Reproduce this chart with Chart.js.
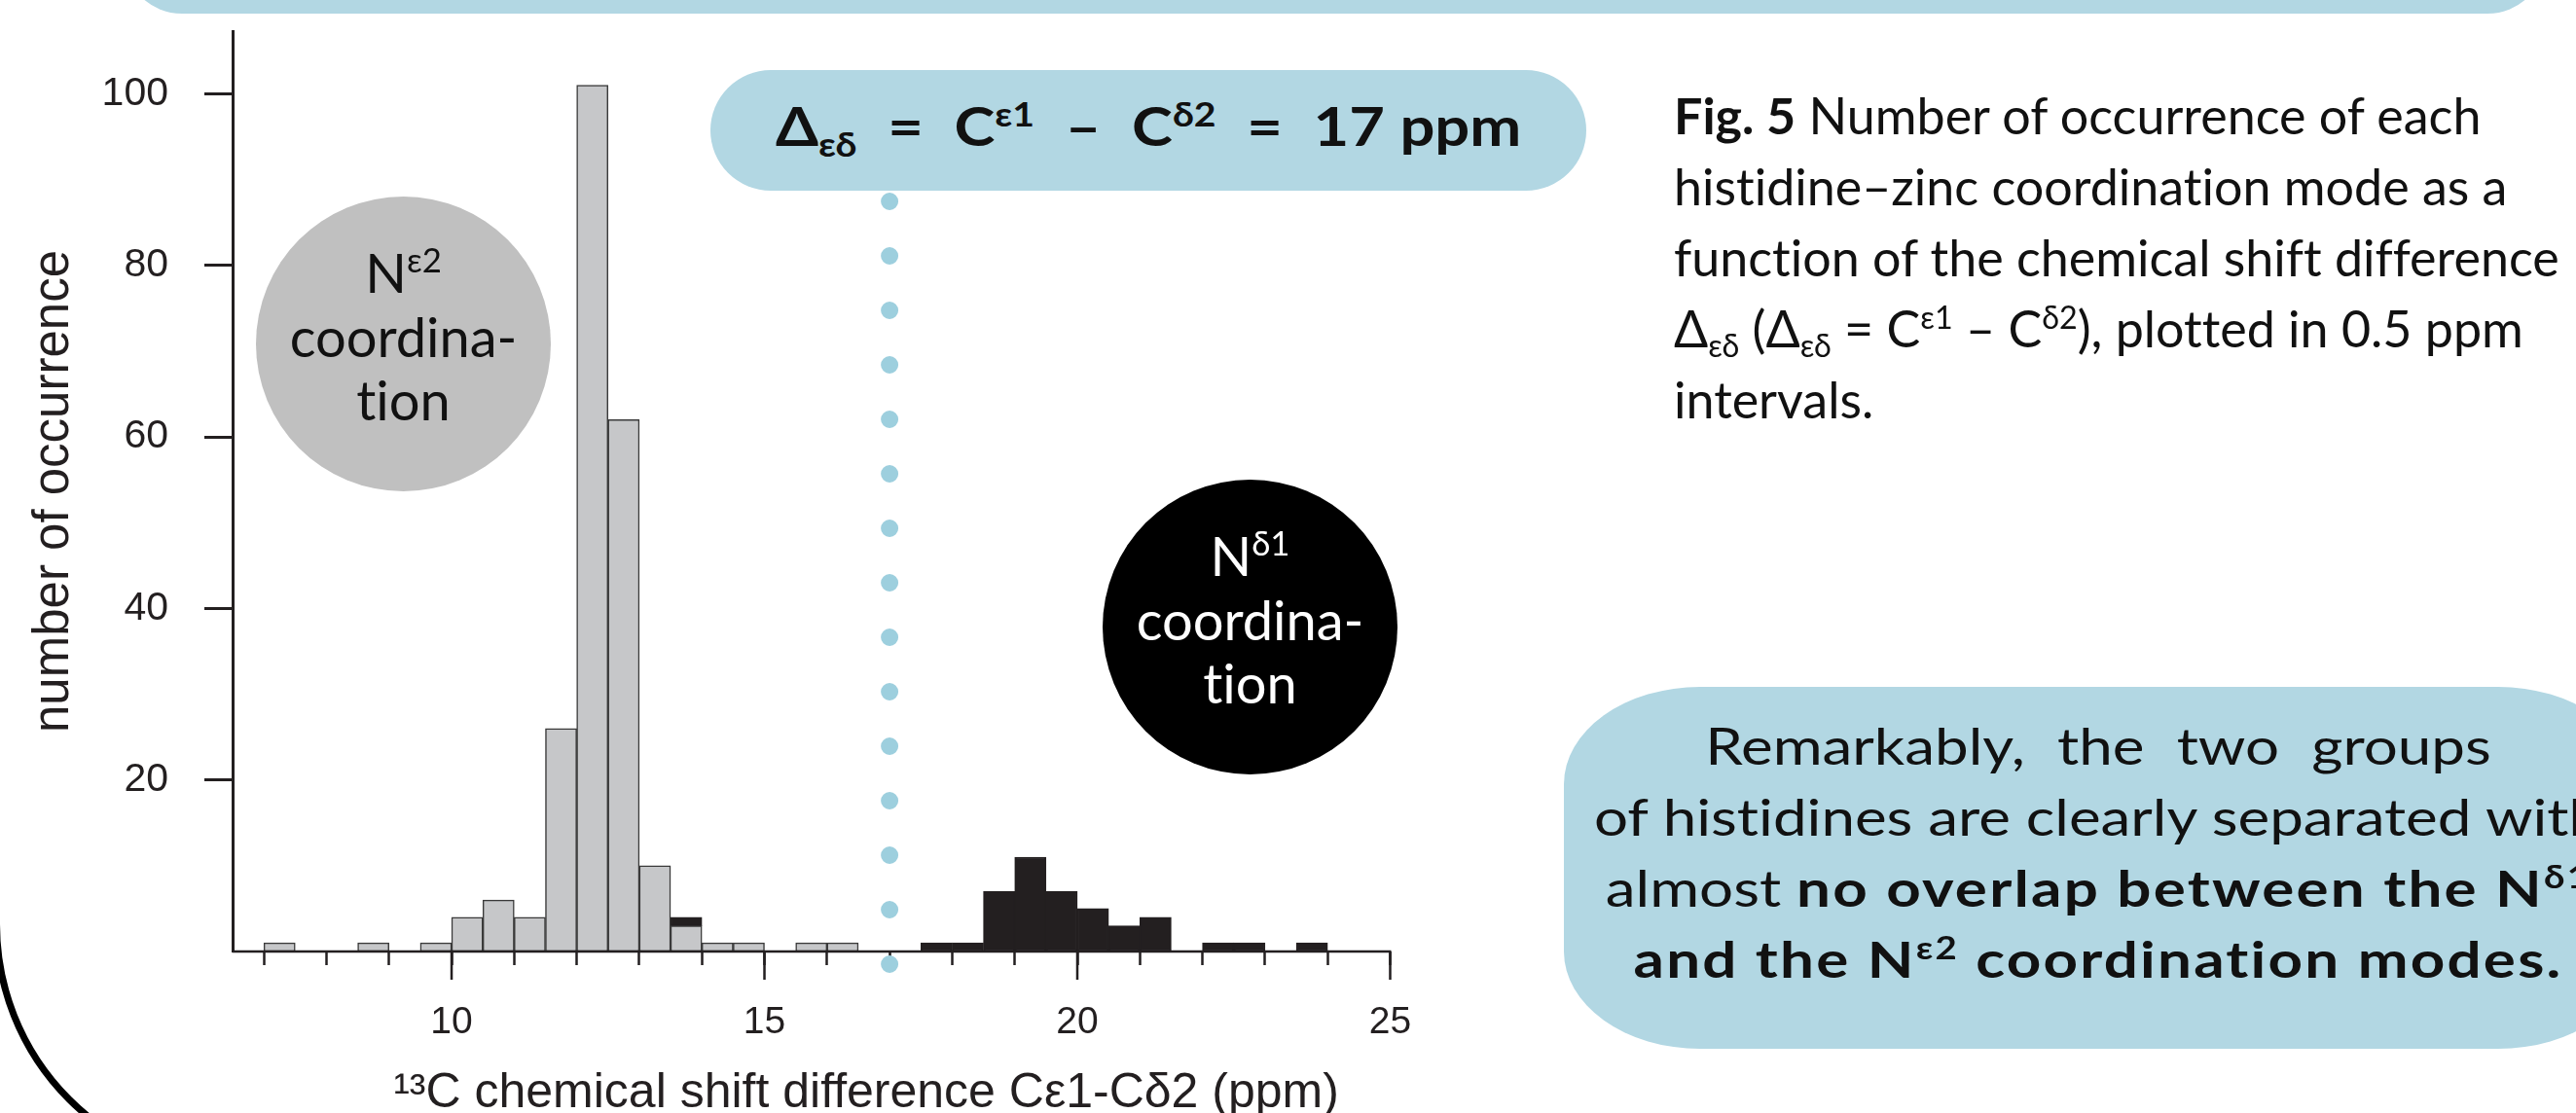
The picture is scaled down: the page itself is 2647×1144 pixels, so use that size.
<!DOCTYPE html>
<html lang="en">
<head>
<meta charset="UTF-8">
<title>Histidine–zinc coordination</title>
<style>
  html, body { margin: 0; padding: 0; background: #fff; }
  body { width: 2647px; height: 1144px; position: relative; overflow: hidden;
         font-family: Lato, "Open Sans", sans-serif; color: #111; font-variant-ligatures: none; }
  #chart { position: absolute; left: 0; top: 0; }
  sup, sub { font-size: 0.62em; line-height: 0; position: relative; vertical-align: baseline; }
  sup { top: -0.6em; }
  sub { top: 0.3em; }
  .band { position: absolute; left: 127px; top: -107px; width: 2489px; height: 121px;
          background: #b2d7e3; border-radius: 60px; }
  .frame { position: absolute; left: -7px; top: -800px; width: 3000px; height: 2008px;
           border: 7px solid #000; border-radius: 258px; box-sizing: border-box; }
  .pill { position: absolute; left: 730px; top: 72px; width: 900px; height: 124px;
          border-radius: 62px; background: #b2d7e3; display: flex; align-items: center;
          justify-content: center; font-weight: 700; font-size: 56px; line-height: 1.2;
          padding-bottom: 10px; box-sizing: border-box; white-space: nowrap; }
  .pill .inner { display: inline-block; transform: scaleX(1.13); }
  .pill .eq { margin: 0 0.5em; }
  .blob { position: absolute; width: 303px; height: 303px; border-radius: 50%;
          text-align: center; font-size: 56px; line-height: 65.5px; box-sizing: border-box;
          padding-top: 45px; }
  .blob.grey { left: 263px; top: 202px; background: #c0c0c0; color: #111; }
  .blob.dark { left: 1133px; top: 493px; background: #000; color: #fff; }
  .caption { position: absolute; left: 1720px; top: 82px; font-size: 52px; line-height: 73px;
             white-space: nowrap; }
  .remark { position: absolute; left: 1607px; top: 706px; width: 1100px; height: 372px;
            background: #b2d7e3; border-radius: 140px / 100px; }
  .remark .txt { position: absolute; left: 0; top: 24px; width: 1098px; text-align: center;
                 font-size: 52px; line-height: 73px; white-space: nowrap;
                 transform: scaleX(1.19); transform-origin: 549px 0; }
  .remark b { letter-spacing: 0.036em; }
  .remark .wide { word-spacing: 0.28em; }
</style>
</head>
<body>
  <div class="frame"></div>
  <div class="band"></div>
  <canvas id="chart" width="2647" height="1144"></canvas>

  <div class="pill"><span class="inner">Δ<sub>εδ</sub><span class="eq">=</span>C<sup>ε1</sup><span class="eq">–</span>C<sup>δ2</sup><span class="eq">=</span>17 ppm</span></div>
  <div class="blob grey">N<sup>ε2</sup><br>coordina-<br>tion</div>
  <div class="blob dark">N<sup>δ1</sup><br>coordina-<br>tion</div>

  <div class="caption"><b>Fig. 5</b> Number of occurrence of each<br>histidine–zinc coordination mode as a<br>function of the chemical shift difference<br>Δ<sub>εδ</sub> (Δ<sub>εδ</sub> = C<sup>ε1</sup> – C<sup>δ2</sup>), plotted in 0.5 ppm<br>intervals.</div>

  <div class="remark"><div class="txt"><span class="wide">Remarkably, the two groups</span><br>of histidines are clearly separated with<br>almost <b>no overlap between the N<sup>δ1</sup></b><br><b>and the N<sup>ε2</sup> coordination modes.</b></div></div>

  <script src="https://cdn.jsdelivr.net/npm/chart.js"></script>
  <script>
    // 0.5 ppm bins (left edge of each bin)
    const binStart = [7.0, 7.5, 8.0, 8.5, 9.0, 9.5, 10.0, 10.5, 11.0, 11.5, 12.0, 12.5,
                      13.0, 13.5, 14.0, 14.5, 15.0, 15.5, 16.0, 16.5, 17.0, 17.5, 18.0, 18.5,
                      19.0, 19.5, 20.0, 20.5, 21.0, 21.5, 22.0, 22.5, 23.0, 23.5, 24.0, 24.5];
    const binWidth = 0.5;

    // N-epsilon2 coordination (grey) and N-delta1 coordination (black)
    const nEps2 = [1, 0, 0, 1, 0, 1, 4, 6, 4, 26, 101, 62,
                   10, 3, 1, 1, 0, 1, 1, 0, 0, 0, 0, 0,
                   0, 0, 0, 0, 0, 0, 0, 0, 0, 0, 0, 0];
    const nDelta1 = [0, 0, 0, 0, 0, 0, 0, 0, 0, 0, 0, 0,
                     0, 1, 0, 0, 0, 0, 0, 0, 0, 1, 1, 7,
                     11, 7, 5, 3, 4, 0, 1, 1, 0, 1, 0, 0];

    const xTicks = [7, 8, 9, 10, 11, 12, 13, 14, 15, 16, 17, 18, 19, 20, 21, 22, 23, 24, 25];
    const xLabelled = [10, 15, 20, 25];
    const yTicks = [20, 40, 60, 80, 100];
    const threshold = 17;

    const ink = '#231f20';
    const axisFont = 'Liberation Sans, Arial, sans-serif';

    const toPoints = counts => binStart.map((s, i) => ({ x: s + binWidth / 2, y: counts[i] }));

    // extra axis bits R draws: baseline up to the last tick, long labelled ticks, 17 ppm dotted line
    const extras = {
      id: 'extras',
      afterDatasetsDraw(chart) {
        const { ctx, scales: { x, y } } = chart;
        const y0 = y.getPixelForValue(0);
        ctx.save();
        ctx.strokeStyle = ink;
        ctx.lineWidth = 2.5;
        ctx.beginPath();
        ctx.moveTo(x.getPixelForValue(x.min), y0);
        ctx.lineTo(x.getPixelForValue(xTicks[xTicks.length - 1]) + 1, y0);
        xLabelled.forEach(v => {
          const px = x.getPixelForValue(v);
          ctx.moveTo(px, y0);
          ctx.lineTo(px, y0 + 29);
        });
        ctx.stroke();

        const px = x.getPixelForValue(threshold);
        ctx.strokeStyle = '#9dcfde';
        ctx.lineWidth = 18;
        ctx.lineCap = 'round';
        ctx.setLineDash([0, 56]);
        ctx.beginPath();
        ctx.moveTo(px, y0 + 13);
        ctx.lineTo(px, y0 + 13 - 14 * 56 - 1);
        ctx.stroke();
        ctx.restore();
      }
    };

    new Chart(document.getElementById('chart'), {
      type: 'bar',
      data: {
        datasets: [
          {
            label: 'Nε2 coordination',
            data: toPoints(nEps2),
            backgroundColor: '#c6c7c9',
            borderColor: '#3a3a3a',
            borderWidth: 1.5,
            borderSkipped: false,
            barPercentage: 1,
            categoryPercentage: 1
          },
          {
            label: 'Nδ1 coordination',
            data: toPoints(nDelta1),
            backgroundColor: ink,
            borderColor: ink,
            borderWidth: 1.5,
            borderSkipped: false,
            barPercentage: 1,
            categoryPercentage: 1
          }
        ]
      },
      options: {
        responsive: false,
        animation: false,
        devicePixelRatio: 1,
        layout: { padding: { top: 32, right: 1106, bottom: 0, left: 0 } },
        plugins: { legend: { display: false }, tooltip: { enabled: false } },
        scales: {
          x: {
            type: 'linear',
            min: 6.5,
            max: 26.75,
            offset: false,
            stacked: true,
            border: { display: false },
            grid: { display: true, offset: false, drawOnChartArea: false, drawTicks: true,
                    tickLength: 14, tickWidth: 2.5, tickColor: ink },
            afterBuildTicks: s => { s.ticks = xTicks.map(v => ({ value: v })); },
            afterFit: s => { s.height = 166; s.paddingLeft = 0; s.paddingRight = 0; },
            ticks: {
              autoSkip: false,
              maxRotation: 0,
              padding: 36,
              color: ink,
              font: { family: axisFont, size: 39 },
              callback: v => xLabelled.includes(v) ? String(v) : ''
            },
            title: {
              display: true,
              text: '¹³C chemical shift difference Cε1-Cδ2 (ppm)',
              color: ink,
              font: { family: axisFont, size: 50 },
              padding: { top: 0, bottom: -10 }
            }
          },
          y: {
            min: 0,
            max: 107.3,
            stacked: true,
            border: { display: true, width: 3, color: ink },
            grid: { display: true, drawOnChartArea: false, drawTicks: true,
                    tickLength: 29, tickWidth: 3, tickColor: ink },
            afterBuildTicks: s => { s.ticks = yTicks.map(v => ({ value: v })); },
            // fixed axis box; no extra room for the top/bottom labels
            afterFit: s => { s.width = 239; s.paddingTop = 0; s.paddingBottom = 0; },
            ticks: {
              padding: 37,
              color: ink,
              font: { family: axisFont, size: 41 }
            },
            title: {
              display: true,
              text: 'number of occurrence',
              color: ink,
              font: { family: axisFont, size: 51 },
              padding: { top: 25, bottom: 0 }
            }
          }
        }
      },
      plugins: [extras]
    });
  </script>
</body>
</html>
